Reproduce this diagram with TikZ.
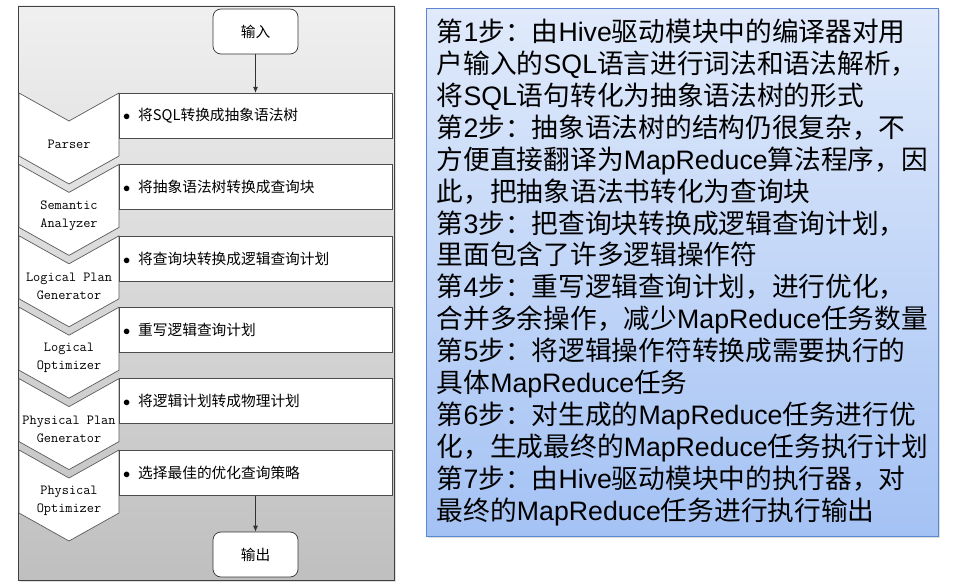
\documentclass[tikz,border=0pt]{standalone}
\usepackage{fontspec}
\usetikzlibrary{arrows.meta,shadows}
\newfontfamily\cjk{Noto Sans CJK SC}
\newfontfamily\lat{Liberation Sans}
\definecolor{stepsline}{HTML}{5B87D2}
\definecolor{stepstop}{HTML}{E0EAFB}
\definecolor{stepsbot}{HTML}{A4C2F4}

\begin{document}
\begin{tikzpicture}[x=1pt, y=-1pt,
    stage/.style={draw=black!65, fill=white, line width=0.7pt, line join=round},
    stagetext/.style={font=\fontsize{13.9}{18}\selectfont\ttfamily, align=center, inner sep=0pt},
    stepbox/.style={draw=black!70, fill=white, line width=0.7pt, minimum width=273pt, minimum height=45pt,
        text width=265pt, inner xsep=4pt, align=left, font=\cjk\fontsize{14.7}{18}\selectfont},
    term/.style={draw=black!80, fill=white, line width=0.7pt, rounded corners=8pt,
        minimum width=85pt, minimum height=45pt, font=\cjk\fontsize{14.7}{18}\selectfont},
    arr/.style={-{Latex[length=6pt,width=5pt]}, line width=0.7pt, black!80}]

\useasboundingbox (0,0) rectangle (980,588);

% left panel with the gray background
\draw[draw=black!75, line width=0.7pt, top color=black!6, bottom color=black!25,
    drop shadow={shadow xshift=2pt, shadow yshift=-2pt, opacity=0.25}] (18,6) rectangle (394,580);

% chevrons with the stage names
\foreach \name [count=\i from 0] in {Parser, {Semantic\\Analyzer}, {Logical Plan\\Generator},
    {Logical\\Optimizer}, {Physical Plan\\Generator}, {Physical\\Optimizer}} {
  \pgfmathsetmacro{\ytop}{93+71.4*\i}
  \draw[stage] (19,\ytop) -- (69,\ytop+28) -- (119,\ytop) -- (119,\ytop+63) -- (69,\ytop+91) -- (19,\ytop+63) -- cycle;
  \node[stagetext] (g\i) at (69,\ytop+51) {\name};
}

% one box per stage
\foreach \txt [count=\i from 0] in {将SQL转换成抽象语法树, 将抽象语法树转换成查询块, 将查询块转换成逻辑查询计划,
    重写逻辑查询计划, 将逻辑计划转成物理计划, 选择最佳的优化查询策略} {
  \node[stepbox] (s\i) at (255.5,{115.7+71.4*\i}) {$\bullet$\hspace{8pt}\txt};
}

% input and output
\node[term] (in) at (255.5,31.5) {输入};
\node[term] (out) at (255.5,554.5) {输出};
\draw[arr] (in) -- (s0);
\draw[arr] (s5) -- (out);

% steps on the right
\node[draw=stepsline, line width=0.8pt, top color=stepstop, bottom color=stepsbot,
    drop shadow={shadow xshift=2pt, shadow yshift=-2pt, opacity=0.25},
    minimum width=512pt, minimum height=528pt, anchor=north west, align=left,
    font=\cjk\fontsize{26.7}{31.9}\selectfont] (steps) at (426,8) {
    第{\lat 1}步：由{\lat Hive}驱动模块中的编译器对用\\
    户输入的{\lat SQL}语言进行词法和语法解析，\\
    将{\lat SQL}语句转化为抽象语法树的形式\\
    第{\lat 2}步：抽象语法树的结构仍很复杂，不\\
    方便直接翻译为{\lat MapReduce}算法程序，因\\
    此，把抽象语法书转化为查询块\\
    第{\lat 3}步：把查询块转换成逻辑查询计划，\\
    里面包含了许多逻辑操作符\\
    第{\lat 4}步：重写逻辑查询计划，进行优化，\\
    合并多余操作，减少{\lat MapReduce}任务数量\\
    第{\lat 5}步：将逻辑操作符转换成需要执行的\\
    具体{\lat MapReduce}任务\\
    第{\lat 6}步：对生成的{\lat MapReduce}任务进行优\\
    化，生成最终的{\lat MapReduce}任务执行计划\\
    第{\lat 7}步：由{\lat Hive}驱动模块中的执行器，对\\
    最终的{\lat MapReduce}任务进行执行输出
};

\end{tikzpicture}
\end{document}
